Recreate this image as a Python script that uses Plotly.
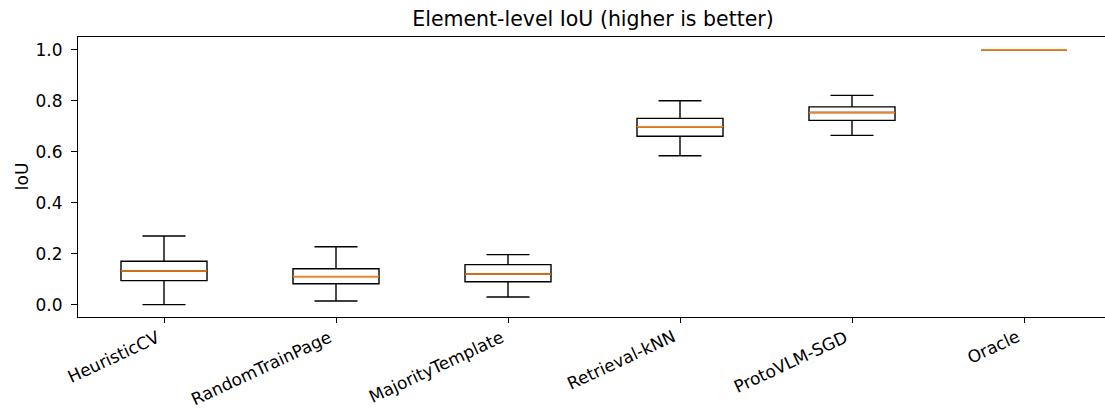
import plotly.graph_objects as go

methods = ["HeuristicCV", "RandomTrainPage", "MajorityTemplate", "Retrieval-kNN", "ProtoVLM-SGD", "Oracle"]
positions = [1, 2, 3, 4, 5, 6]
lower = [0.000, 0.014, 0.030, 0.584, 0.664, 1.0]
q1 = [0.094, 0.082, 0.090, 0.661, 0.723, 1.0]
median = [0.132, 0.110, 0.120, 0.698, 0.754, 1.0]
q3 = [0.170, 0.141, 0.157, 0.731, 0.776, 1.0]
upper = [0.269, 0.227, 0.196, 0.800, 0.821, 1.0]
yticks = [0.0, 0.2, 0.4, 0.6, 0.8, 1.0]

BOX_W = 0.5
FONT = "DejaVu Sans"
TICK_SIZE = 17
TITLE_SIZE = 20.5

fig = go.Figure()
fig.add_trace(go.Box(
    x=positions, q1=q1, median=median, q3=q3,
    lowerfence=lower, upperfence=upper,
    width=BOX_W, whiskerwidth=0.5,
    line=dict(color="black", width=1.4),
    fillcolor="rgba(0,0,0,0)",
    boxpoints=False, showlegend=False, hoverinfo="skip",
))

mx, my = [], []
for p, m in zip(positions, median):
    mx += [p - BOX_W / 2, p + BOX_W / 2, None]
    my += [m, m, None]
fig.add_trace(go.Scatter(x=mx, y=my, mode="lines",
                         line=dict(color="#ff7f0e", width=1.5),
                         showlegend=False, hoverinfo="skip"))

W, H = 1105, 410
L, T, B = 78, 37, 93
plot_w = W - L
px_per_unit = 172.0

annotations = [dict(text="IoU", textangle=-90, xref="paper", yref="paper",
                    x=(21.5 - L) / plot_w, y=0.5, xanchor="center",
                    yanchor="middle", showarrow=False,
                    font=dict(size=TICK_SIZE, family=FONT, color="black"))]
for p, name in zip(positions, methods):
    annotations.append(dict(text=name, textangle=-25, xref="x", yref="paper",
                            x=p, y=0, xanchor="right", yanchor="top",
                            yshift=-7, xshift=1, showarrow=False,
                            font=dict(size=TICK_SIZE, family=FONT, color="black")))

fig.update_layout(
    width=W, height=H,
    margin=dict(l=L, r=0, t=T, b=B, pad=0, autoexpand=False),
    paper_bgcolor="white", plot_bgcolor="white",
    font=dict(family=FONT, size=TICK_SIZE, color="black"),
    title=dict(text="Element-level IoU (higher is better)",
               x=(593 - L) / plot_w, xref="paper", xanchor="center",
               y=1 - 18.5 / H, yref="container", yanchor="middle",
               automargin=False,
               font=dict(size=TITLE_SIZE, family=FONT, color="black")),
    xaxis=dict(range=[0.5, 0.5 + plot_w / px_per_unit], automargin=False,
               tickmode="array", tickvals=positions, showticklabels=False,
               ticks="outside", ticklen=5, tickwidth=1.1,
               tickcolor="black", showline=True, linecolor="black",
               linewidth=1.1, mirror=True, showgrid=False, zeroline=False),
    yaxis=dict(range=[-0.0486, 1.0502], automargin=False,
               tickmode="array", tickvals=yticks,
               tickformat=".1f", ticks="outside", ticklen=6, tickwidth=1.1,
               tickcolor="black", showline=True, linecolor="black",
               linewidth=1.1, mirror=False, showgrid=False, zeroline=False,
               ticklabelstandoff=5,
               tickfont=dict(size=TICK_SIZE, family=FONT, color="black")),
    annotations=annotations,
)

fig.write_html("out.html", config={"displayModeBar": False},
               post_script="document.body.style.margin='0';"
                           "document.body.style.overflow='hidden';")
